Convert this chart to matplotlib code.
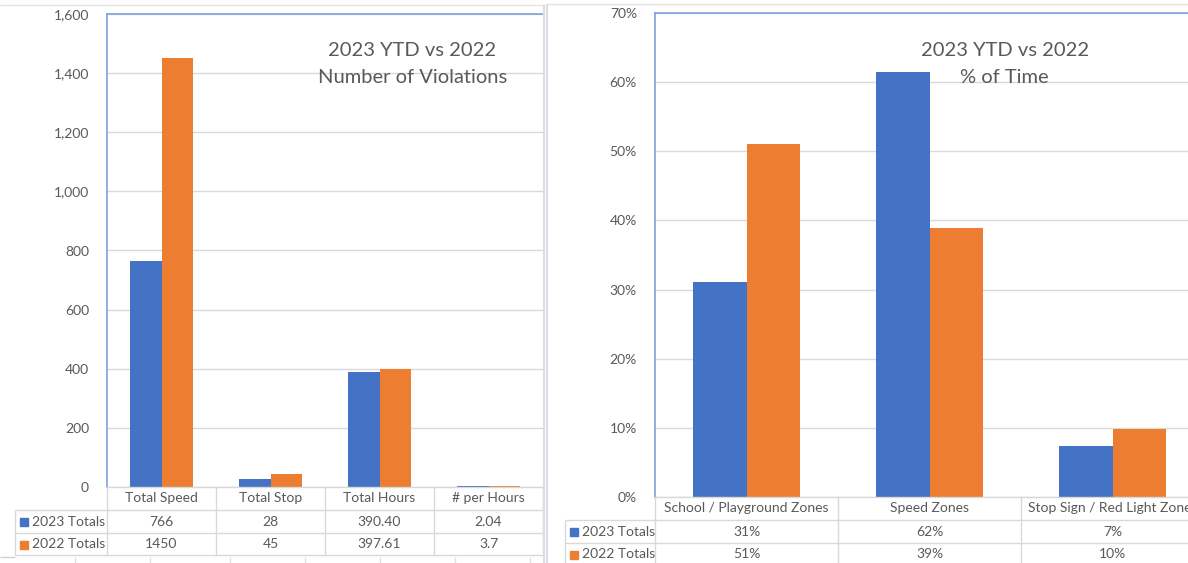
import matplotlib
matplotlib.use('Agg')
import matplotlib.pyplot as plt
from matplotlib.ticker import FuncFormatter, MultipleLocator
from matplotlib.transforms import blended_transform_factory

plt.rcParams['font.family'] = ['Lato', 'DejaVu Sans']

# ── data ──
viol_cats = ['Total Speed', 'Total Stop', 'Total Hours', '# per Hours']
viol_2023 = [766, 28, 390.40, 2.04]
viol_2022 = [1450, 45, 397.61, 3.7]
viol_2023_txt = ['766', '28', '390.40', '2.04']
viol_2022_txt = ['1450', '45', '397.61', '3.7']

zone_cats = ['School / Playground Zones', 'Speed Zones', 'Stop Sign / Red Light Zones']
zone_2023 = [0.311, 0.615, 0.074]
zone_2022 = [0.510, 0.389, 0.099]
zone_2023_txt = ['31%', '62%', '7%']
zone_2022_txt = ['51%', '39%', '10%']

series = ['2023 Totals', '2022 Totals']

BLUE = '#4472C4'
ORANGE = '#ED7D31'
GRID = '#D9D9D9'
TXT = '#595959'
SEL = '#7F9FDB'

W, H = 1188, 563
fig = plt.figure(figsize=(W / 100, H / 100), dpi=100)
fig.patch.set_facecolor('white')


def px_axes(x0, y0, x1, y1, **kw):
    return fig.add_axes([x0 / W, 1 - y1 / H, (x1 - x0) / W, (y1 - y0) / H], **kw)


# overlay in pixel coords for table grid / frames
ov = px_axes(0, 0, W, H, zorder=5)
ov.set_xlim(0, W)
ov.set_ylim(H, 0)
ov.axis('off')
ov.patch.set_alpha(0)


def hline(y, x0, x1, c=GRID, lw=1.0):
    ov.plot([x0, x1], [y, y], color=c, lw=lw, solid_capstyle='butt')


def vline(x, y0, y1, c=GRID, lw=1.0):
    ov.plot([x, x], [y0, y1], color=c, lw=lw, solid_capstyle='butt')


def bar_chart(ax, cats, v23, v22, ymax, step, fmt):
    n = len(cats)
    xs = list(range(n))
    w = 0.29
    ax.bar([x - w / 2 for x in xs], v23, w, color=BLUE, zorder=3)
    ax.bar([x + w / 2 for x in xs], v22, w, color=ORANGE, zorder=3)
    ax.set_xlim(-0.5, n - 0.5)
    ax.set_ylim(0, ymax)
    ax.yaxis.set_major_locator(MultipleLocator(step))
    ax.yaxis.set_major_formatter(FuncFormatter(fmt))
    ax.grid(axis='y', color=GRID, lw=1.0, zorder=0)
    ax.set_xticks([])
    ax.tick_params(axis='y', length=0, pad=13, labelsize=10, labelcolor=TXT)
    for s in ['right', 'bottom']:
        ax.spines[s].set_visible(False)
    for s in ['left', 'top']:
        ax.spines[s].set_color(SEL)
        ax.spines[s].set_linewidth(1.2)
    ax.set_facecolor('none')


def table(ax, cats, t23, t22, x_leg, x_plot, x_right, y_head, row_h, y_bottom):
    tr = blended_transform_factory(ax.transData, ov.transData)
    n = len(cats)
    y_r1 = y_head + row_h
    y_r2 = y_r1 + row_h
    hline(y_head, x_plot, x_right)
    hline(y_r1, x_leg, x_right)
    hline(y_r2, x_leg, x_right)
    hline(y_bottom, x_leg, x_right)
    vline(x_leg, y_r1, y_bottom)
    for i in range(n + 1):
        ov.plot([i - 0.5, i - 0.5], [y_head, y_bottom], color=GRID, lw=1.0,
                transform=tr)
    for i, c in enumerate(cats):
        ov.text(i, y_head + row_h / 2, c, transform=tr, ha='center', va='center',
                fontsize=10, color=TXT)
        ov.text(i, y_r1 + row_h / 2, t23[i], transform=tr, ha='center', va='center',
                fontsize=10, color=TXT)
        ov.text(i, y_r2 + row_h / 2, t22[i], transform=tr, ha='center', va='center',
                fontsize=10, color=TXT)
    for k, (lab, col) in enumerate(zip(series, [BLUE, ORANGE])):
        yc = y_r1 + row_h / 2 + k * row_h
        ov.add_patch(plt.Rectangle((x_leg + 5, yc - 4), 8, 8, color=col))
        ov.text(x_leg + 17, yc, lab, ha='left', va='center', fontsize=10, color=TXT)


# ── left chart ──
axL = px_axes(107, 14, 543, 487, zorder=4)
bar_chart(axL, viol_cats, viol_2023, viol_2022, 1600, 200,
          lambda v, p: f'{int(v):,}')
axL.text(0.70, 0.894, '2023 YTD vs 2022\nNumber of Violations', transform=axL.transAxes,
         ha='center', va='center', fontsize=14.5, color=TXT, linespacing=1.7)
table(axL, viol_cats, viol_2023_txt, viol_2022_txt, 15, 107, 543, 487, 23, 555)

# ── right chart ──
axR = px_axes(655, 13, 1204, 497, zorder=4)
bar_chart(axR, zone_cats, zone_2023, zone_2022, 0.70, 0.10,
          lambda v, p: f'{v * 100:.0f}%')
axR.text(0.637, 0.895, '2023 YTD vs 2022\n% of Time', transform=axR.transAxes,
         ha='center', va='center', fontsize=14.5, color=TXT, linespacing=1.7)
table(axR, zone_cats, zone_2023_txt, zone_2022_txt, 565, 655, 1210, 497, 23, 566)

# ── chart frames / sheet lines ──
hline(5, 0, 544, c='#E3E3E3')
vline(544, 5, 563, c='#DCDCE6', lw=1.5)
hline(4, 547, W, c='#E3E3E3')
vline(547, 4, 563, c='#DCDCE6', lw=1.5)
hline(557, 0, 15, c='#D0D0D0')
for x in [75, 150, 230, 305, 380, 455, 530]:
    vline(x, 557, 563, c='#E0E0E0')

fig.savefig('out.png', dpi=100, facecolor='white')
